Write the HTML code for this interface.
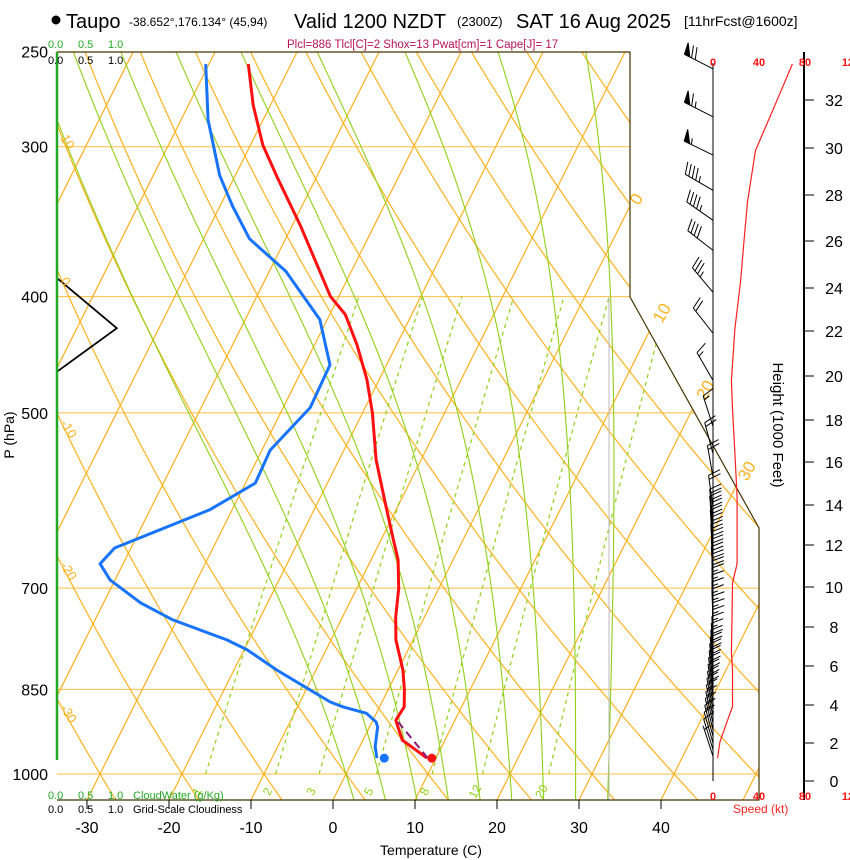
<!DOCTYPE html>
<html><head><meta charset="utf-8">
<style>
body{margin:0;background:#fff;}
svg{display:block;font-family:"Liberation Sans",Arial,sans-serif;}
</style></head>
<body>
<svg id="chart" width="850" height="860" viewBox="0 0 850 860" xmlns="http://www.w3.org/2000/svg">
<defs>
<clipPath id="plotclip"><polygon points="57,52 630,52 630,297 759,528 759,800 57,800"/></clipPath>
</defs>
<rect x="0" y="0" width="850" height="860" fill="#fff"/>
<g id="grid" clip-path="url(#plotclip)"></g>
<g id="marks"></g>
<g id="axes"></g>
<g id="wind"></g>
<g>
<circle cx="56" cy="20" r="4.5" fill="#000"/>
<text x="66" y="28" font-size="20">Taupo</text>
<text x="129" y="26" font-size="12">-38.652°,176.134° (45,94)</text>
<text x="294" y="28" font-size="20">Valid 1200 NZDT</text>
<text x="457" y="26" font-size="13">(2300Z)</text>
<text x="516" y="28" font-size="20">SAT 16 Aug 2025</text>
<text x="684" y="26" font-size="14">[11hrFcst@1600z]</text>
<text x="287" y="48" font-size="11.5" fill="#B8145A">Plcl=886 Tlcl[C]=2 Shox=13 Pwat[cm]=1 Cape[J]= 17</text>
</g>
<g font-size="11">
<text x="48" y="48" fill="#22AA22">0.0</text><text x="78" y="48" fill="#22AA22">0.5</text><text x="108" y="48" fill="#22AA22">1.0</text>
<text x="48" y="64" fill="#000">0.0</text><text x="78" y="64" fill="#000">0.5</text><text x="108" y="64" fill="#000">1.0</text>
<text x="48" y="799" fill="#22AA22">0.0</text><text x="78" y="799" fill="#22AA22">0.5</text><text x="108" y="799" fill="#22AA22">1.0</text>
<text x="133" y="799" fill="#22AA22">CloudWater (g/Kg)</text>
<text x="48" y="813" fill="#000">0.0</text><text x="78" y="813" fill="#000">0.5</text><text x="108" y="813" fill="#000">1.0</text>
<text x="133" y="813" fill="#000">Grid-Scale Cloudiness</text>
</g>
<text x="431" y="855" font-size="14" text-anchor="middle">Temperature (C)</text>
<text transform="translate(14,435) rotate(-90)" font-size="14" text-anchor="middle">P (hPa)</text>
<text transform="translate(773,425) rotate(90)" font-size="15" text-anchor="middle">Height (1000 Feet)</text>
<text x="733" y="813" font-size="12" fill="#FF2222">Speed (kt)</text>
</svg>
<script>
// ---------- data ----------
const tempP = [970,937,902,879,851,819,773,740,700,663,638,591,547,500,469,439,414,400,349,319,299,277,256];
const tempT = [8.9,4.8,2.8,3.0,2.0,0.6,-2.1,-3.5,-4.9,-6.7,-8.5,-12.0,-15.5,-18.8,-21.5,-24.8,-28.1,-31.0,-39.0,-44.6,-48.5,-52.1,-55.2];
const dewP = [970,949,914,905,890,879,871,848,819,788,773,744,720,689,668,648,602,572,537,495,456,418,381,358,336,317,285,256];
const dewT = [2.8,1.9,1.0,0.5,-1.2,-4.5,-6.3,-10.0,-14.8,-19.6,-22.7,-30.5,-35.5,-40.6,-42.8,-42.0,-32.7,-28.8,-29.0,-26.7,-26.9,-30.9,-38.0,-44.4,-48.5,-51.9,-56.7,-60.4];
const parcelP = [970,905];
const parcelT = [9.0,3.2];
const surfTemp = [970,9.5];
const surfDew = [970,3.7];
const cloudP = [386,425,462];
const cloudFrac = [0.0,0.65,0.0];
const speedH = [1.2,2.05,2.4,3.6,3.9,5.8,6.7,8.4,10.2,11.1,14.4,16.4,18.5,19.8,22.1,24.3,26.0,27.7,29.9,31.8,33.5];
const speedV = [4,6,8,15,17,17,16,16.5,17,21,21,19,17,16,19,24,27,30,37,54,69];
const barbH = [33.3,31.3,29.7,28.2,26.9,25.6,23.8,21.9,19.8,17.7,16.4,15.3,13.9,13.2,12.85,12.5,12.15,11.8,11.45,11.1,10.75,10.4,10.05,9.7,9.35,9.0,8.65,8.3,7.95,7.6,7.25,6.9,6.55,6.2,5.85,5.5,5.15,4.8,4.45,4.1,3.75,3.4,3.05,2.7,2.35,2.0,1.65,1.3];
const barbDir = [297,297,296,300,305,308,320,322,330,342,345,350,352,354,354,355,355,356,356,357,357,357,358,358,358,358,358,358,359,359,359,358,357,356,355,354,353,352,351,350,349,348,347,346,345,344,343,342];
const barbSpd = [70,65,55,45,45,40,35,20,15,15,20,20,20,20,20,20,20,20,20,20,20,20,20,20,15,15,15,15,15,15,15,15,15,20,20,20,20,20,20,20,20,15,15,15,15,10,10,5];
const pTicks = [250,300,400,500,700,850,1000];
const tTicks = [-30,-20,-10,0,10,20,30,40];
const hTicks = [0,2,4,6,8,10,12,14,16,18,20,22,24,26,28,30,32];
const hTickY = [781,743,705,666,627,587,545,505,462,420,376,331,288,241,195,148,100];
const mixW = [1,2,3,5,8,12,20];
const thetaLabels = [10,0,-10,-20,-30];
const isoLabels = [0,10,20,30];

// ---------- axis functions ----------
const NS="http://www.w3.org/2000/svg";
function yP(p){return 774+521*Math.log(p/1000);}
function xT(T,p){return 333+8.2*T+0.5*(800-yP(p));}
function pY(y){return 1000*Math.exp((y-774)/521);}
function yH(h){
  if(h<=hTicks[0]) return hTickY[0];
  for(let i=1;i<hTicks.length;i++){ if(h<=hTicks[i]){const f=(h-hTicks[i-1])/(hTicks[i]-hTicks[i-1]);return hTickY[i-1]+f*(hTickY[i]-hTickY[i-1]);} }
  const n=hTicks.length; return hTickY[n-1]+(h-hTicks[n-1])*(hTickY[n-1]-hTickY[n-2])/(hTicks[n-1]-hTicks[n-2]);
}
function xS(s){return 713+s*(46/40);}
function el(tag,attrs,parent){const e=document.createElementNS(NS,tag);for(const k in attrs)e.setAttribute(k,attrs[k]);parent.appendChild(e);return e;}
function pts(arr){return arr.map(a=>a[0].toFixed(1)+","+a[1].toFixed(1)).join(" ");}

const grid=document.getElementById('grid');
const marks=document.getElementById('marks');
const axes=document.getElementById('axes');
const wind=document.getElementById('wind');
const ORANGE="#FFB21E", GREEN="#8FD016";

for(const p of pTicks){
  const l=el('line',{x1:57,x2:780,y1:yP(p),y2:yP(p),stroke:ORANGE,'stroke-width':1,opacity:0.85},grid);
  
  
}
for(let T=-120;T<=50;T+=10){
  const l=el('line',{x1:xT(T,1060),y1:yP(1060),x2:xT(T,240),y2:yP(240),stroke:ORANGE,'stroke-width':1.2},grid);
  
  
}
for(let th=-40;th<=160;th+=10){
  const a=[];
  for(let p=1060;p>=240;p-=10){a.push([xT((th+273.15)*Math.pow(p/1000,0.2857)-273.15,p),yP(p)]);}
  const l=el('polyline',{points:pts(a),fill:'none',stroke:ORANGE,'stroke-width':1.2},grid);
  
  
}
function es(T){return 6.112*Math.exp(17.67*(T-273.15)/(T-29.65));}
function dTdp(T,p){const rs=0.622*es(T)/(p-es(T));return (287*T+2.5e6*rs)/(p*(1005+2.5e6*2.5e6*rs*0.622/(287*T*T)));}
for(let tw=0;tw<=32;tw+=4){
  const up=[];let T=tw+273.15;
  for(let p=1000;p>=245;p-=2){up.push([xT(T-273.15,p),yP(p)]);T-=dTdp(T,p)*2;}
  const dn=[];T=tw+273.15;
  for(let p=1000;p<=1060;p+=2){dn.unshift([xT(T-273.15,p),yP(p)]);T+=dTdp(T,p)*2;}
  const l=el('polyline',{points:pts(dn.concat(up)),fill:'none',stroke:GREEN,'stroke-width':1.1},grid);
  
  
}
function tdW(w,p){const e=w*p/(622+w);const L=Math.log(e/6.112);return 243.5*L/(17.67-L);}
for(const w of mixW){
  const a=[];for(let p=1000;p>=400;p-=10)a.push([xT(tdW(w,p),p),yP(p)]);
  const l=el('polyline',{points:pts(a),fill:'none',stroke:GREEN,'stroke-width':1.2,'stroke-dasharray':'4,4'},grid);
  
  
  const x=xT(tdW(w,1030),1030), y=yP(1030)+4;
  const t=el('text',{x:x,y:y,'font-size':12,fill:GREEN,'text-anchor':'middle',transform:`rotate(-62 ${x} ${y})`},axes);
  t.textContent=w;
  
  
}
for(const th of thetaLabels){
  let best=1000,bd=1e9;
  for(let p=1040;p>=250;p-=1){const d=Math.abs(xT((th+273.15)*Math.pow(p/1000,0.2857)-273.15,p)-62);if(d<bd){bd=d;best=p;}}
  const x=60,y=yP(best);
  const t=el('text',{x:x,y:y,'font-size':13,fill:ORANGE,transform:`rotate(58 ${x} ${y})`},axes);
  t.textContent=th;
  
  
}
const isoY=[200,318,395,476];
isoLabels.forEach((T,i)=>{
  const p=pY(isoY[i]);const x=xT(T,p)+6,y=isoY[i]+6;
  const t=el('text',{x:x,y:y,'font-size':17,fill:ORANGE,transform:`rotate(-60 ${x} ${y})`},axes);
  t.textContent=T;
  
  
});
el('line',{x1:609,y1:297,x2:609,y2:800,stroke:'#bbbbbb','stroke-width':1},axes);

const fr=el('polyline',{points:"57,52 630,52 630,297 759,528 759,800 57,800",fill:'none',stroke:'#443300','stroke-width':1.2},axes);


const gl=el('line',{x1:57,y1:52,x2:57,y2:760,stroke:'#22AA22','stroke-width':2.5},axes);



for(const p of pTicks){
  const t=el('text',{x:48,y:yP(p)+6,'font-size':16,'text-anchor':'end'},axes);
  t.textContent=p;
  
  
}
for(const T of tTicks){
  const x=333+8.2*T;
  el('line',{x1:x,x2:x,y1:800,y2:809,stroke:'#000','stroke-width':1},axes);
  const t=el('text',{x:x,y:833,'font-size':16,'text-anchor':'middle'},axes);
  t.textContent=T;
  
  
}

const cl=el('polyline',{points:pts(cloudP.map((p,i)=>[57+cloudFrac[i]*92,yP(p)])),fill:'none',stroke:'#000','stroke-width':1.8},marks);


const dl=el('polyline',{points:pts(dewP.map((p,i)=>[xT(dewT[i],p),yP(p)])),fill:'none',stroke:'#1874FF','stroke-width':3,'stroke-linejoin':'round'},marks);


const tl=el('polyline',{points:pts(tempP.map((p,i)=>[xT(tempT[i],p),yP(p)])),fill:'none',stroke:'#FF1010','stroke-width':3,'stroke-linejoin':'round'},marks);


const pl=el('polyline',{points:pts(parcelP.map((p,i)=>[xT(parcelT[i],p),yP(p)])),fill:'none',stroke:'#8B1A7A','stroke-width':2,'stroke-dasharray':'8,5'},marks);


const sd1=el('circle',{cx:xT(surfTemp[1],surfTemp[0]),cy:yP(surfTemp[0]),r:4.5,fill:'#FF1010'},marks);


const sd2=el('circle',{cx:xT(surfDew[1],surfDew[0]),cy:yP(surfDew[0]),r:4.5,fill:'#1874FF'},marks);



el('line',{x1:713,y1:63,x2:713,y2:781,stroke:'#000','stroke-width':1},wind);
const ha=el('line',{x1:804,y1:52,x2:804,y2:800,stroke:'#000','stroke-width':2},wind);


hTicks.forEach(h=>{
  const y=yH(h);
  el('line',{x1:804,x2:814,y1:y,y2:y,stroke:'#000','stroke-width':1},wind);
  const t=el('text',{x:834,y:y+6,'font-size':16,'text-anchor':'middle'},wind);
  t.textContent=h;
  
  
});
[0,40,80,120].forEach(s=>{
  for(const y of [66,800]){
    const t=el('text',{x:xS(s),y:y,'font-size':11,'font-weight':'bold',fill:'#FF1010','text-anchor':'middle'},wind);
    t.textContent=s;
    
    
  }
});
const sp=el('polyline',{points:pts(speedH.map((h,i)=>[xS(speedV[i]),yH(h)])),fill:'none',stroke:'#FF2020','stroke-width':1.2},wind);


barbH.forEach((h,i)=>{
  const bx=713,by=yH(h),L=32;
  const a=barbDir[i]*Math.PI/180;
  const ux=Math.sin(a),uy=-Math.cos(a);
  const px=-uy,py=ux;
  const g=el('g',{stroke:'#000','stroke-width':1,fill:'#000'},wind);
  
  
  const tx=bx+ux*L,ty=by+uy*L;
  el('line',{x1:bx,y1:by,x2:tx,y2:ty},g);
  let s=Math.round(barbSpd[i]/5)*5,pos=0;const bl=12,st=4;
  while(s>=50){
    const x0=tx-ux*pos,y0=ty-uy*pos,x1=tx-ux*(pos+6),y1=ty-uy*(pos+6);
    el('polygon',{points:`${x0},${y0} ${x0+px*bl+ux*2},${y0+py*bl+uy*2} ${x1},${y1}`},g);
    pos+=8;s-=50;
  }
  while(s>=10){
    const x0=tx-ux*pos,y0=ty-uy*pos;
    el('line',{x1:x0,y1:y0,x2:x0+px*bl+ux*4,y2:y0+py*bl+uy*4},g);
    pos+=st;s-=10;
  }
  if(s>=5){
    if(pos===0)pos=st;
    const x0=tx-ux*pos,y0=ty-uy*pos;
    el('line',{x1:x0,y1:y0,x2:x0+px*bl*0.5+ux*2,y2:y0+py*bl*0.5+uy*2},g);
  }
});
</script>
</body></html>
